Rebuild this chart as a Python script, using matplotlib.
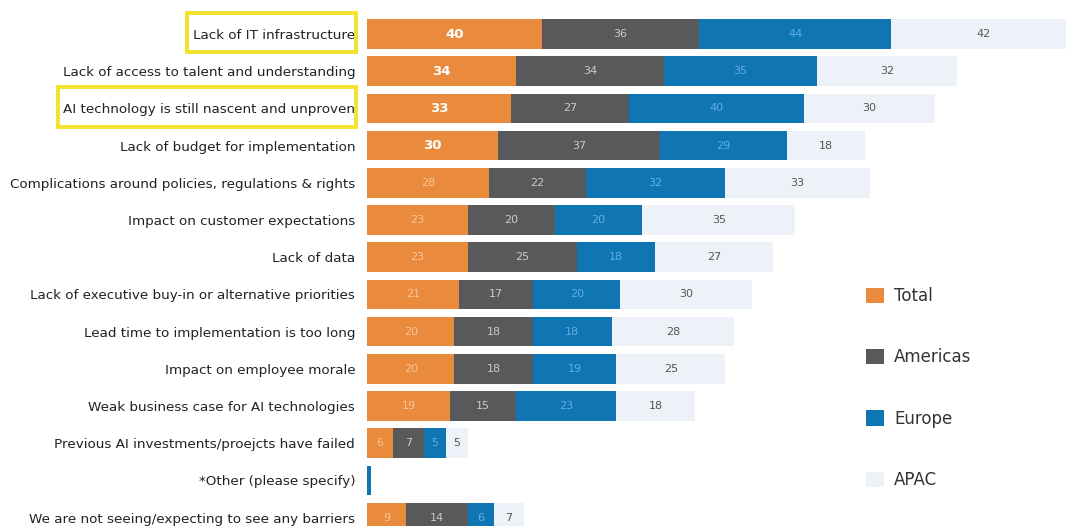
import matplotlib
matplotlib.use("Agg")
import matplotlib.pyplot as plt
from matplotlib.patches import Rectangle, Patch
import numpy as np

categories = [
    "Lack of IT infrastructure",
    "Lack of access to talent and understanding",
    "AI technology is still nascent and unproven",
    "Lack of budget for implementation",
    "Complications around policies, regulations & rights",
    "Impact on customer expectations",
    "Lack of data",
    "Lack of executive buy-in or alternative priorities",
    "Lead time to implementation is too long",
    "Impact on employee morale",
    "Weak business case for AI technologies",
    "Previous AI investments/proejcts have failed",
    "*Other (please specify)",
    "We are not seeing/expecting to see any barriers",
]
series_names = ["Total", "Americas", "Europe", "APAC"]
total = [40, 34, 33, 30, 28, 23, 23, 21, 20, 20, 19, 6, 0, 9]
americas = [36, 34, 27, 37, 22, 20, 25, 17, 18, 18, 15, 7, 0, 14]
europe = [44, 35, 40, 29, 32, 20, 18, 20, 18, 19, 23, 5, 1, 6]
apac = [42, 32, 30, 18, 33, 35, 27, 30, 28, 25, 18, 5, 0, 7]

colors = ["#EA8A3C", "#58595B", "#0F76B3", "#EDF2F9"]
label_colors = ["#F7C79C", "#C9CACC", "#62AEE0", "#555555"]

W, H = 1066, 526
fig = plt.figure(figsize=(W / 100, H / 100), dpi=100)
ax = fig.add_axes([367 / W, 0, (W - 367) / W, 1])

y = np.arange(len(categories))
left = np.zeros(len(categories))
for s, (name, vals) in enumerate(zip(series_names, [total, americas, europe, apac])):
    vals = np.array(vals, dtype=float)
    ax.barh(y, vals, left=left, height=0.8, color=colors[s], label=name,
            edgecolor="none")
    for i, v in enumerate(vals):
        if v < 3:
            continue
        if s == 0 and i < 4:
            kw = dict(color="white", fontweight="bold", fontsize=9.5)
        else:
            kw = dict(color=label_colors[s], fontsize=8)
        ax.text(left[i] + v / 2, i, f"{int(v)}", ha="center", va="center", **kw)
    left += vals

ax.set_xlim(0, (W - 367) / 4.37)
ax.set_ylim((H - 34) / 37.2, -34 / 37.2)
ax.set_yticks(y)
ax.set_yticklabels(categories, fontsize=9.7, color="#222222")
ax.tick_params(axis="y", length=0, pad=8.5)
ax.set_xticks([])
for sp in ax.spines.values():
    sp.set_visible(False)

# Yellow highlight frames around two labels
for (x0, y0, x1, y1) in [(187, 13, 356, 52), (58, 87, 356, 127)]:
    fig.add_artist(Rectangle((x0 / W, 1 - y1 / H), (x1 - x0) / W, (y1 - y0) / H,
                             transform=fig.transFigure, fill=False,
                             edgecolor="#F4E22C", linewidth=2.8))

handles = [Patch(facecolor=c, edgecolor="none") for c in colors]
fig.legend(handles, series_names, loc="upper left",
           bbox_to_anchor=(851 / W, 1 - 272 / H), frameon=False,
           fontsize=12, labelspacing=2.6, handlelength=1.05,
           handleheight=1.05, handletextpad=0.65, labelcolor="#333333")

fig.savefig("out.png", dpi=100)
